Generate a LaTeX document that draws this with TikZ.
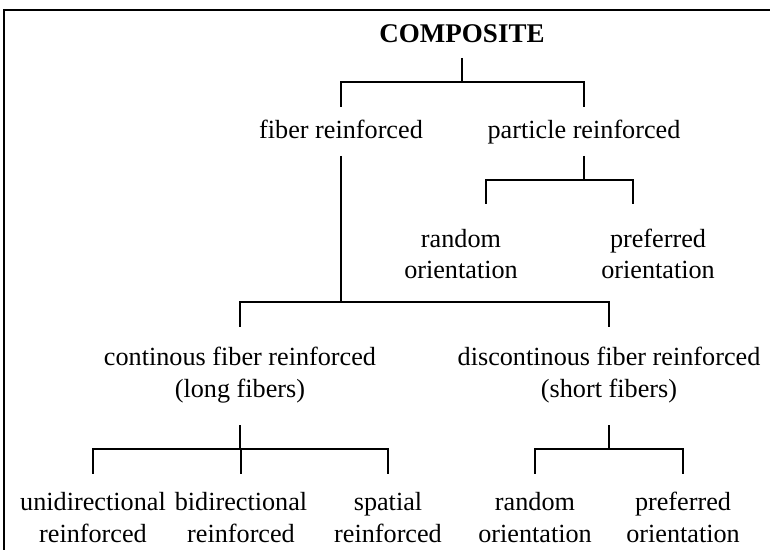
\documentclass[tikz,border=0pt]{standalone}
\usepackage{fontspec}
\setmainfont{Liberation Serif}

\begin{document}
\begin{tikzpicture}[x=0.5pt, y=-0.5pt, font=\fontsize{13.1}{15.6}\selectfont,
  every node/.style={inner sep=0pt, anchor=base, align=center},
  every path/.style={line width=0.65pt}]
  \useasboundingbox (0,0) rectangle (770,550);
  % cadre ouvert : seulement en haut et a gauche
  \draw (770,10) -- (4,10) -- (4,550);

  % base = ligne de base de la derniere ligne du texte
  \node[font=\fontsize{13.5}{15.6}\selectfont\bfseries] (comp) at (462,43) {COMPOSITE};
  \node (fib) at (341,139) {fiber reinforced};
  \node (part) at (584,139) {particle reinforced};
  \node (prand) at (461,279) {random\\orientation};
  \node (ppref) at (658,279) {preferred\\orientation};
  \node (cont) at (240,397) {continous fiber reinforced\\(long fibers)};
  \node (disc) at (609,397) {discontinous fiber reinforced\\(short fibers)};
  \node (uni) at (93,542) {unidirectional\\reinforced};
  \node (bi) at (241,542) {bidirectional\\reinforced};
  \node (spat) at (388,542) {spatial\\reinforced};
  \node (crand) at (535,542) {random\\orientation};
  \node (cpref) at (683,542) {preferred\\orientation};

  % les branches du haut ne tombent pas au centre des textes
  \coordinate (prand-top) at (486,204);
  \coordinate (ppref-top) at (633,204);

  % fourches : tige, barre, puis une branche par enfant
  \draw (comp |- 0,58) -- (comp |- 0,82);
  \foreach \kid in {fib,part}
    \draw (comp |- 0,82) -| (\kid |- 0,107);
  \draw (part |- 0,156) -- (part |- 0,180);
  \foreach \kid in {prand-top,ppref-top}
    \draw (part |- 0,180) -| (\kid);
  \draw (fib |- 0,156) -- (fib |- 0,302);
  \foreach \kid in {cont,disc}
    \draw (fib |- 0,302) -| (\kid |- 0,327);
  \draw (cont |- 0,425) -- (cont |- 0,449);
  \foreach \kid in {uni,bi,spat}
    \draw (cont |- 0,449) -| (\kid |- 0,474);
  \draw (disc |- 0,425) -- (disc |- 0,449);
  \foreach \kid in {crand,cpref}
    \draw (disc |- 0,449) -| (\kid |- 0,474);
\end{tikzpicture}
\end{document}
